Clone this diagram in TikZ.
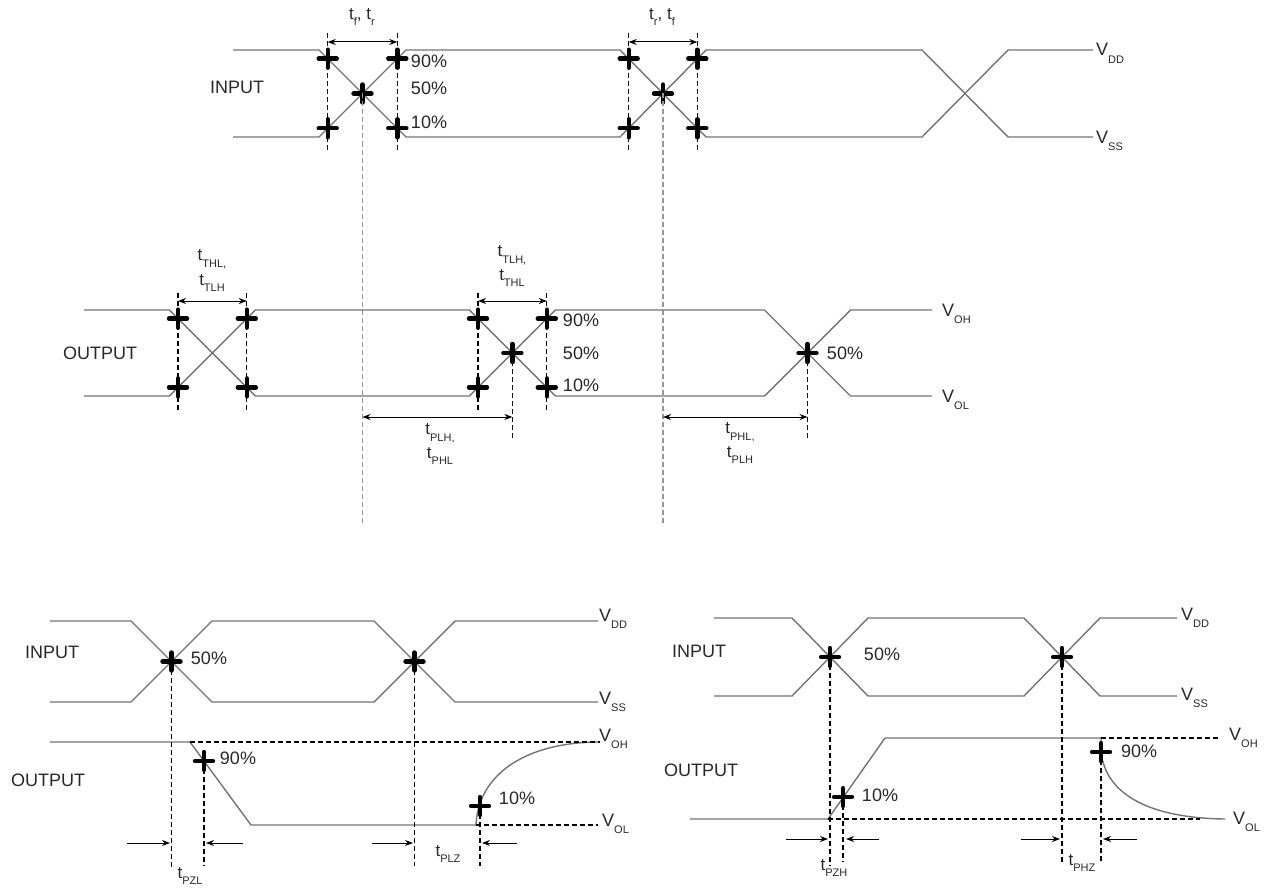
\documentclass[tikz,border=0pt]{standalone}
\usepackage{fontspec}
\setmainfont{Liberation Sans}
\usetikzlibrary{arrows.meta}
\definecolor{sigcol}{RGB}{115,115,115}
\definecolor{txtcol}{RGB}{40,40,40}
\definecolor{farcol}{RGB}{150,150,150}
% small lowered index, as in t_PLH or V_DD
\newcommand{\sub}[2]{#1\raisebox{-0.75ex}{\fontsize{11}{11}\selectfont #2}}
\newcommand{\plusmk}[1]{\draw[pm] (#1) +(-9,0) -- +(9,0) (#1) +(0,-9) -- +(0,9);}

\begin{document}
\begin{tikzpicture}[x=1pt, y=-1pt,
  sigst/.style={draw=sigcol, line width=1.4pt},
  guide/.style={dash pattern=on 5pt off 3pt, line width=1.1pt},
  far/.style={guide, draw=farcol},
  dim/.style={{Stealth[length=8pt,width=6pt]}-{Stealth[length=8pt,width=6pt]}, line width=1pt},
  ptr/.style={-{Stealth[length=8pt,width=6pt]}, line width=1pt},
  pm/.style={line width=4.4pt, line cap=round},
  lbl/.style={font=\fontsize{18}{20}\selectfont, text=txtcol, inner sep=0pt},
  tl/.style={font=\fontsize{17}{18}\selectfont, text=txtcol, inner sep=0pt},
  vl/.style={lbl, anchor=base west}]
\useasboundingbox (0,0) rectangle (1279,888);

% ---- input, rise and fall times
\draw[sigst] (233,50) -- (319,50) -- (406,137) -- (620,137) -- (706,50) -- (922,50) -- (1008,137) -- (1093,137);
\draw[sigst] (233,137) -- (319,137) -- (406,50) -- (620,50) -- (706,137) -- (922,137) -- (1008,50) -- (1093,50);
\coordinate (i1a) at (327.7,58.7); \coordinate (i1b) at (397.3,58.7);
\coordinate (i1c) at (327.7,128.3); \coordinate (i1d) at (397.3,128.3);
\coordinate (i1m) at (362.5,93.5);
\coordinate (i2a) at (628.7,58.7); \coordinate (i2b) at (697.3,58.7);
\coordinate (i2c) at (628.7,128.3); \coordinate (i2d) at (697.3,128.3);
\coordinate (i2m) at (663,93.5);
\foreach \p in {i1a,i1b,i1c,i1d,i1m,i2a,i2b,i2c,i2d,i2m} {\plusmk{\p}}
\draw[guide] (327.7,33) -- (327.7,150);
\draw[guide] (397.3,33) -- (397.3,150);
\draw[guide] (628.7,33) -- (628.7,150);
\draw[guide] (697.3,33) -- (697.3,150);
\draw[dim] (327.7,42) -- (397.3,42);
\draw[dim] (628.7,42) -- (697.3,42);
\draw[far] (i1m) -- (362.5,525);
\draw[far] (i2m) -- (663,525);
\node[tl] (trf1) at (362,17) {\sub{t}{f}, \sub{t}{r}};
\node[tl] (trf2) at (662,17) {\sub{t}{r}, \sub{t}{f}};
\node[lbl] (in1) at (237,87) {INPUT};
\node[lbl] (p90a) at (429,61) {90\%};
\node[lbl] (p50a) at (429,88) {50\%};
\node[lbl] (p10a) at (429,122) {10\%};
\node[vl] (vdd1) at (1096,56) {\sub{V}{DD}};
\node[vl] (vss1) at (1096,143) {\sub{V}{SS}};

% ---- output, transition and propagation times
\draw[sigst] (84,310) -- (169.4,310) -- (255.4,396) -- (469.4,396) -- (555.4,310) -- (764.5,310) -- (850.5,396) -- (932,396);
\draw[sigst] (84,396) -- (169.4,396) -- (255.4,310) -- (469.4,310) -- (555.4,396) -- (764.5,396) -- (850.5,310) -- (932,310);
\coordinate (o1a) at (178,318.6); \coordinate (o1b) at (246.8,318.6);
\coordinate (o1c) at (178,387.4); \coordinate (o1d) at (246.8,387.4);
\coordinate (o2a) at (478,318.6); \coordinate (o2b) at (546.8,318.6);
\coordinate (o2c) at (478,387.4); \coordinate (o2d) at (546.8,387.4);
\coordinate (o2m) at (512.4,353); \coordinate (o3m) at (807.5,353);
\foreach \p in {o1a,o1b,o1c,o1d,o2a,o2b,o2c,o2d,o2m,o3m} {\plusmk{\p}}
\draw[guide] (178,293) -- (178,413);
\draw[guide] (246.8,293) -- (246.8,413);
\draw[guide] (478,293) -- (478,413);
\draw[guide] (546.8,293) -- (546.8,413);
\draw[guide] (o2m) -- (512.4,438);
\draw[guide] (o3m) -- (807.5,438);
\draw[dim] (178,301) -- (246.8,301);
\draw[dim] (478,301) -- (546.8,301);
\draw[dim] (362.5,417) -- (512.4,417);
\draw[dim] (663,417) -- (807.5,417);
\node[tl] (tthl1) at (212,259) {\sub{t}{THL,}};
\node[tl] (ttlh1) at (212,283) {\sub{t}{TLH}};
\node[tl] (ttlh2) at (512,255) {\sub{t}{TLH,}};
\node[tl] (tthl2) at (512,278) {\sub{t}{THL}};
\node[tl] (tplh1) at (440,433) {\sub{t}{PLH,}};
\node[tl] (tphl1) at (440,456) {\sub{t}{PHL}};
\node[tl] (tphl2) at (740,432) {\sub{t}{PHL,}};
\node[tl] (tplh2) at (740,455) {\sub{t}{PLH}};
\node[lbl] (out1) at (100,353) {OUTPUT};
\node[lbl] (p90b) at (581,320) {90\%};
\node[lbl] (p50b) at (581,353) {50\%};
\node[lbl] (p10b) at (581,385) {10\%};
\node[lbl] (p50c) at (845,353) {50\%};
\node[vl] (voh1) at (942,316) {\sub{V}{OH}};
\node[vl] (vol1) at (942,402) {\sub{V}{OL}};

% ---- three-state output, low level
\draw[sigst] (50,621) -- (131,621) -- (212,702) -- (374,702) -- (455,621) -- (598,621);
\draw[sigst] (50,702) -- (131,702) -- (212,621) -- (374,621) -- (455,702) -- (598,702);
\draw[sigst] (50,742) -- (190,742) -- (251,825) -- (476,825) .. controls (478,775) and (525,742) .. (600,742);
\draw[guide] (190,742) -- (600,742);
\draw[guide] (476,825) -- (598,825);
\coordinate (l1m) at (171.5,661.5); \coordinate (l2m) at (414.5,661.5);
\coordinate (l90) at (204,761); \coordinate (l10) at (480,806);
\foreach \p in {l1m,l2m,l90,l10} {\plusmk{\p}}
\draw[guide] (l1m) -- (171.5,868);
\draw[guide] (l2m) -- (414.5,866);
\draw[guide] (l90) -- (204,866);
\draw[guide] (l10) -- (480,866);
\draw[ptr] (127,843) -- (170,843);
\draw[ptr] (243,843) -- (206,843);
\draw[ptr] (372,843) -- (413,843);
\draw[ptr] (517,843) -- (482,843);
\node[lbl] (in2) at (52,652) {INPUT};
\node[lbl] (p50d) at (209,658) {50\%};
\node[lbl] (out2) at (48,780) {OUTPUT};
\node[lbl] (p90d) at (238,758) {90\%};
\node[lbl] (p10d) at (517,798) {10\%};
\node[tl] (tpzl) at (190,876) {\sub{t}{PZL}};
\node[tl] (tplz) at (448,854) {\sub{t}{PLZ}};
\node[vl] (vdd2) at (599,621) {\sub{V}{DD}};
\node[vl] (vss2) at (599,704) {\sub{V}{SS}};
\node[vl] (voh2) at (599,741) {\sub{V}{OH}};
\node[vl] (vol2) at (602,826) {\sub{V}{OL}};

% ---- three-state output, high level
\draw[sigst] (714,618) -- (792,618) -- (868,696) -- (1024,696) -- (1100,618) -- (1177,618);
\draw[sigst] (714,696) -- (792,696) -- (868,618) -- (1024,618) -- (1100,696) -- (1177,696);
\draw[sigst] (690,819) -- (828,819) -- (885,738) -- (1101,738) -- (1101,752) .. controls (1106,795) and (1150,818) .. (1225,819);
\draw[guide] (1101,738) -- (1220,738);
\draw[guide] (828,819) -- (1200,819);
\coordinate (h1m) at (830,657); \coordinate (h2m) at (1062,657);
\coordinate (h10) at (843,797); \coordinate (h90) at (1101,752);
\foreach \p in {h1m,h2m,h10,h90} {\plusmk{\p}}
\draw[guide] (h1m) -- (830,866);
\draw[guide] (h10) -- (843,862);
\draw[guide] (h2m) -- (1062,862);
\draw[guide] (h90) -- (1101,862);
\draw[ptr] (786,839) -- (828,839);
\draw[ptr] (879,839) -- (846,839);
\draw[ptr] (1021,839) -- (1060,839);
\draw[ptr] (1137,839) -- (1103,839);
\node[lbl] (in3) at (699,651) {INPUT};
\node[lbl] (p50e) at (882,654) {50\%};
\node[lbl] (out3) at (701,770) {OUTPUT};
\node[lbl] (p10e) at (880,795) {10\%};
\node[lbl] (p90e) at (1139,751) {90\%};
\node[tl] (tpzh) at (834,868) {\sub{t}{PZH}};
\node[tl] (tphz) at (1082,863) {\sub{t}{PHZ}};
\node[vl] (vdd3) at (1181,620) {\sub{V}{DD}};
\node[vl] (vss3) at (1181,700) {\sub{V}{SS}};
\node[vl] (voh3) at (1229,740) {\sub{V}{OH}};
\node[vl] (vol3) at (1233,824) {\sub{V}{OL}};
\end{tikzpicture}
\end{document}
